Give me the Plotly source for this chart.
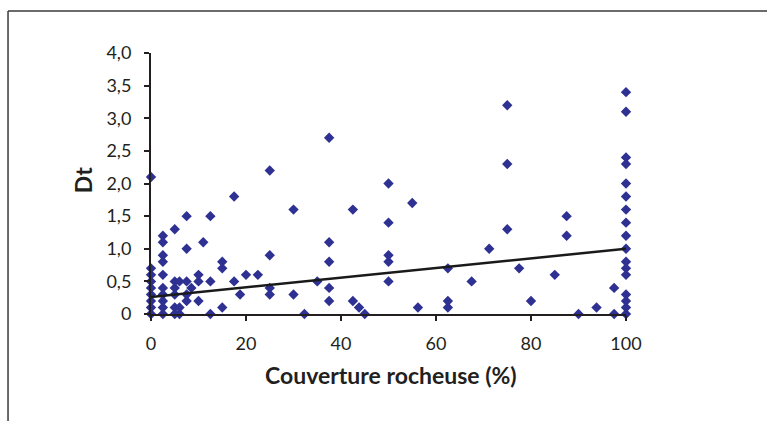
import plotly.graph_objects as go

# Data
cover_pct = (
    [0]*9 + [2.5]*10 + [5]*6 + [6]*3 + [7.5]*5 + [8.5] + [10]*3 + [11] + [12.5]*3
    + [15]*3 + [17.5]*2 + [18.75] + [20] + [22.5] + [25]*4 + [30]*2 + [32.3] + [35]
    + [37.5]*5 + [42.5]*2 + [43.8] + [45] + [50]*5 + [55] + [56.2] + [62.5]*3 + [67.5]
    + [71.2] + [75]*3 + [77.5] + [80] + [85] + [87.5]*2 + [90] + [93.8] + [97.5]*2 + [100]*17
)
dt = (
    [0, 0.1, 0.2, 0.3, 0.4, 0.5, 0.6, 0.7, 2.1]
    + [0, 0.1, 0.2, 0.3, 0.4, 0.6, 0.8, 0.9, 1.1, 1.2]
    + [0, 0.1, 0.3, 0.4, 0.5, 1.3]
    + [0, 0.1, 0.5]
    + [0.2, 0.3, 0.5, 1.0, 1.5]
    + [0.4]
    + [0.2, 0.5, 0.6]
    + [1.1]
    + [0, 0.5, 1.5]
    + [0.1, 0.7, 0.8]
    + [0.5, 1.8]
    + [0.3]
    + [0.6]
    + [0.6]
    + [0.3, 0.4, 0.9, 2.2]
    + [0.3, 1.6]
    + [0]
    + [0.5]
    + [0.2, 0.4, 0.8, 1.1, 2.7]
    + [0.2, 1.6]
    + [0.1]
    + [0]
    + [0.5, 0.8, 0.9, 1.4, 2.0]
    + [1.7]
    + [0.1]
    + [0.1, 0.2, 0.7]
    + [0.5]
    + [1.0]
    + [1.3, 2.3, 3.2]
    + [0.7]
    + [0.2]
    + [0.6]
    + [1.2, 1.5]
    + [0]
    + [0.1]
    + [0, 0.4]
    + [0, 0.1, 0.2, 0.3, 0.6, 0.7, 0.8, 1.0, 1.2, 1.4, 1.6, 1.8, 2.0, 2.3, 2.4, 3.1, 3.4]
)
trend_x = [0, 100]
trend_y = [0.26, 1.0]

x_ticks = [0, 20, 40, 60, 80, 100]
y_ticks = [0, 0.5, 1.0, 1.5, 2.0, 2.5, 3.0, 3.5, 4.0]
y_ticktext = ["0", "0,5", "1,0", "1,5", "2,0", "2,5", "3,0", "3,5", "4,0"]

FONT = "Lato"
AX = "#231f20"

fig = go.Figure()
fig.add_trace(go.Scatter(
    x=cover_pct, y=dt, mode="markers",
    marker=dict(symbol="diamond", size=8, color="#2e3192", line=dict(width=0)),
    cliponaxis=False, showlegend=False,
))
fig.add_trace(go.Scatter(
    x=trend_x, y=trend_y, mode="lines",
    line=dict(color="#1a1a1a", width=2.5),
    cliponaxis=False, showlegend=False,
))

fig.update_layout(
    width=767, height=421,
    margin=dict(l=151, r=141, t=53, b=107),
    paper_bgcolor="white", plot_bgcolor="white",
    font=dict(family=FONT, color=AX, size=18),
    xaxis=dict(
        range=[0, 100], tickvals=x_ticks, ticks="outside", ticklen=5, tickwidth=1.5,
        tickcolor=AX, showline=True, linecolor=AX, linewidth=2, showgrid=False,
        zeroline=False, tickfont=dict(family=FONT, size=18, color=AX),
        ticklabelstandoff=7,
    ),
    yaxis=dict(
        range=[0, 4], tickvals=y_ticks, ticktext=y_ticktext, ticks="outside",
        ticklen=5, tickwidth=1.5, tickcolor=AX, showline=True, linecolor=AX,
        linewidth=2, showgrid=False, zeroline=False,
        tickfont=dict(family=FONT, size=18, color=AX),
        ticklabelstandoff=9,
    ),
    shapes=[
        dict(type="line", xref="paper", yref="paper", x0=-0.301, x1=-0.301,
             y0=-0.5, y1=1.161, line=dict(color="#3a3a3a", width=1.5)),
        dict(type="line", xref="paper", yref="paper", x0=-0.301, x1=1.4,
             y0=1.161, y1=1.161, line=dict(color="#3a3a3a", width=1.5)),
    ],
    annotations=[
        dict(text="<b>Couverture rocheuse (%)</b>", xref="paper", yref="paper",
             x=0.505, y=-0.234, showarrow=False, xanchor="center", yanchor="middle",
             font=dict(family=FONT, size=23, color=AX)),
        dict(text="<b>Dt</b>", xref="paper", yref="paper", x=-0.143, y=0.513,
             showarrow=False, textangle=-90, xanchor="center", yanchor="middle",
             font=dict(family=FONT, size=23, color=AX)),
    ],
)

fig.write_html("out.html")
